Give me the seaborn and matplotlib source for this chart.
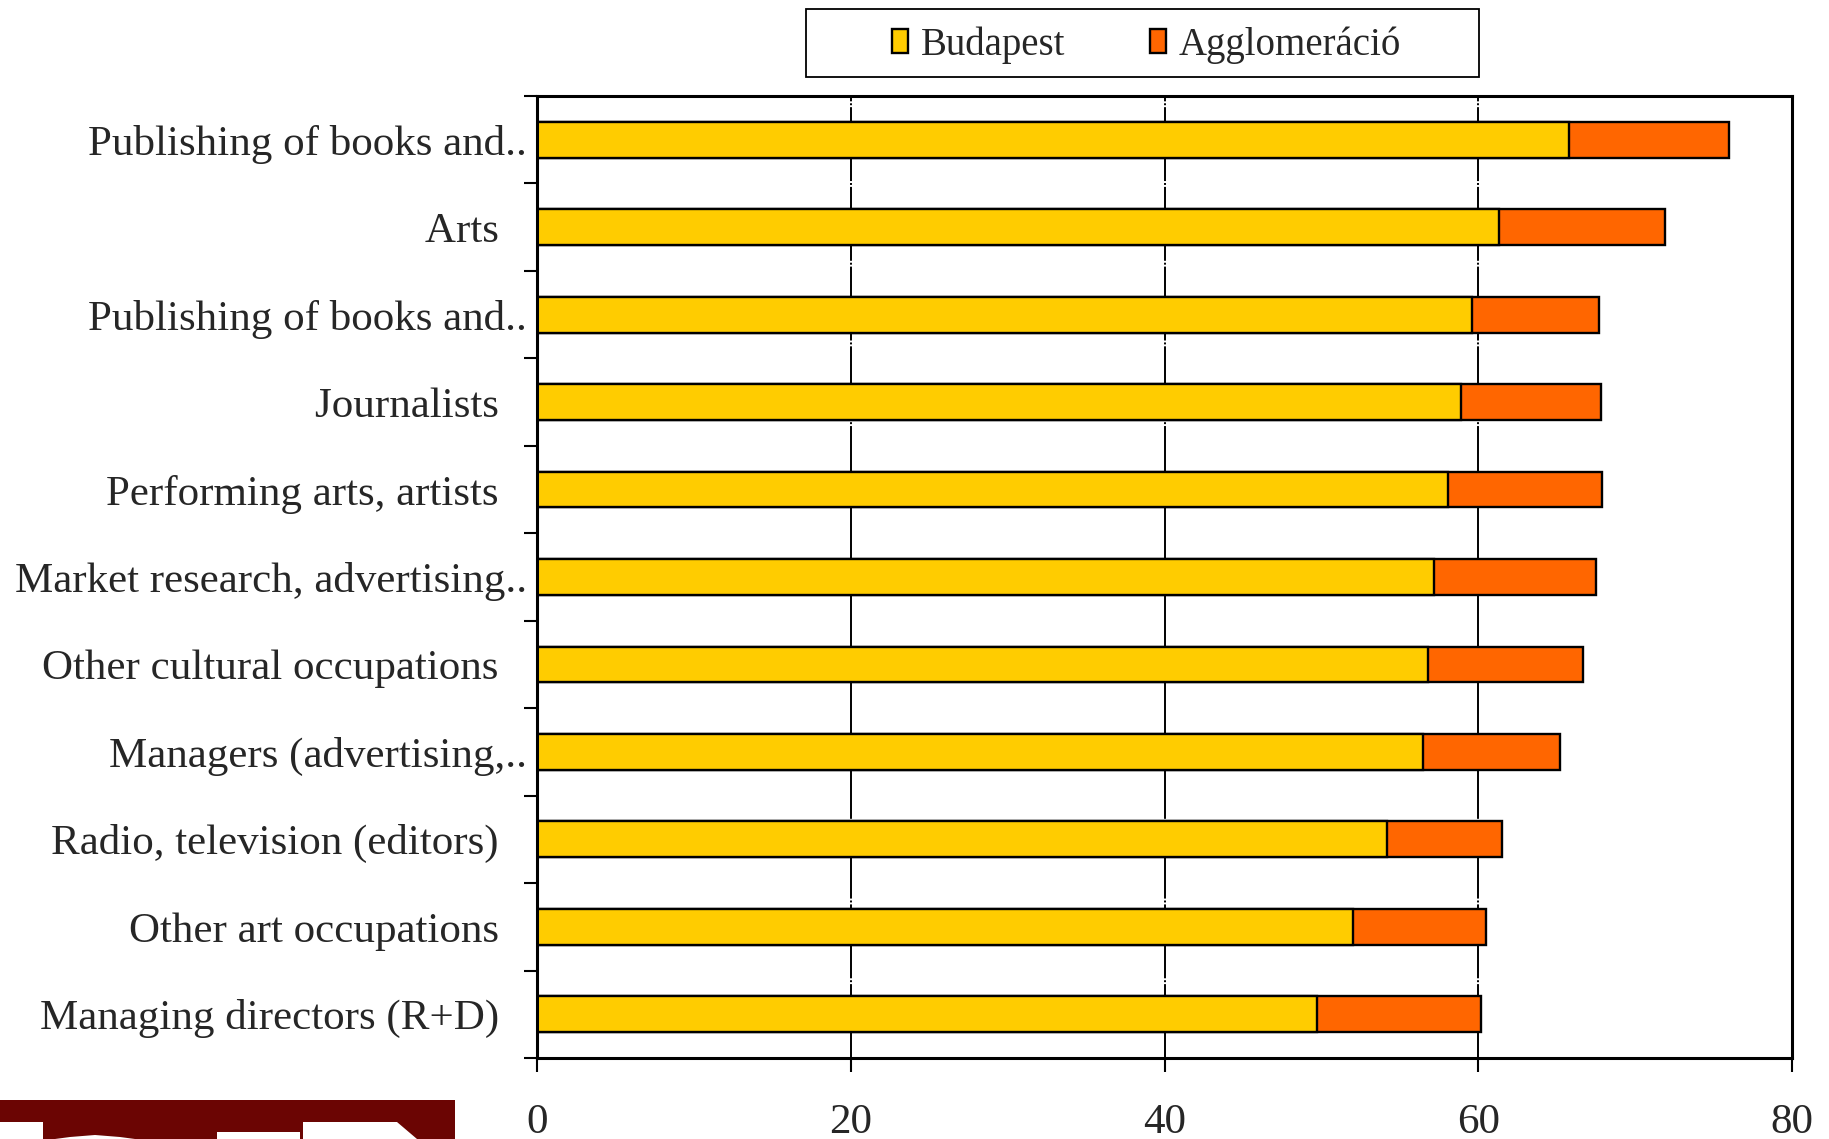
import matplotlib
matplotlib.use('Agg')
import matplotlib.pyplot as plt
import seaborn as sns
import pandas as pd
from matplotlib.patches import Patch, Rectangle, Polygon

# Adatok (felülről lefelé)
SP = '  \u2006'  # záró térköz a nem csonkolt feliratokhoz
kategoriak = [
    'Publishing of books and..',
    'Arts' + SP,
    'Publishing of books and..',
    'Journalists' + SP,
    'Performing arts, artists' + SP,
    'Market research, advertising..',
    'Other cultural occupations' + SP,
    'Managers (advertising,..',
    'Radio, television (editors)' + SP,
    'Other art occupations' + SP,
    'Managing directors (R+D)' + SP,
]
budapest = [65.8, 61.3, 59.6, 58.9, 58.1, 57.2, 56.8, 56.5, 54.2, 52.0, 49.7]
agglomeracio = [10.2, 10.6, 8.1, 8.9, 9.8, 10.3, 9.9, 8.7, 7.3, 8.5, 10.5]
x_ticks = [0, 20, 40, 60, 80]

SARGA = '#FFCC00'
NARANCS = '#FF6600'

df = pd.DataFrame({'pos': range(len(kategoriak)), 'budapest': budapest, 'agglo': agglomeracio})
df['osszes'] = df['budapest'] + df['agglo']

sns.set_theme(style='white')
plt.rcParams['font.family'] = ['Liberation Serif', 'DejaVu Serif']

fig = plt.figure(figsize=(18.29, 11.39), dpi=100)
ax = fig.add_axes([0.2936, 0.0711, 0.9798 - 0.2936, 0.9157 - 0.0711])

# halmozott oszlopok: előbb az összeg (narancs), rá a budapesti rész (sárga)
sns.barplot(data=df, x='osszes', y='pos', orient='h', color=NARANCS, saturation=1,
            width=0.41, edgecolor='black', linewidth=1.7, ax=ax)
sns.barplot(data=df, x='budapest', y='pos', orient='h', color=SARGA, saturation=1,
            width=0.41, edgecolor='black', linewidth=1.7, ax=ax)

ax.set_xlim(0, 80)
ax.set_ylim(len(kategoriak) - 0.5, -0.5)
ax.set_xlabel('')
ax.set_ylabel('')

ax.set_xticks(x_ticks)
ax.set_xticklabels([str(t) for t in x_ticks], fontsize=31)
ax.set_yticks(range(len(kategoriak)))
ax.set_yticklabels(kategoriak, fontsize=31)
ax.set_yticks([i - 0.5 for i in range(len(kategoriak) + 1)], minor=True)

ax.tick_params(axis='x', which='major', direction='out', length=10, width=1.5,
               color='black', pad=23, bottom=True)
ax.tick_params(axis='y', which='major', length=0, pad=7, left=True)
ax.tick_params(axis='y', which='minor', direction='out', length=9.5, width=1.5,
               color='black', left=True)

ax.xaxis.grid(True, color='black', linewidth=1.4, linestyle=(0, (38, 1, 1, 1)))
ax.yaxis.grid(False)
ax.set_axisbelow(True)

for s in ax.spines.values():
    s.set_visible(True)
    s.set_color('black')
    s.set_linewidth(2.2)

# Jelmagyarázat (külön keret)
fig.patches.append(Rectangle((0.4407, 0.9324), 0.368, 0.0597, transform=fig.transFigure,
                             facecolor='white', edgecolor='black', linewidth=1.3, zorder=1))
kezelok = [Patch(facecolor=SARGA, edgecolor='black', linewidth=1.7, label='Budapest'),
           Patch(facecolor=NARANCS, edgecolor='black', linewidth=1.7, label='Agglomeráció')]
fig.legend(handles=kezelok, loc='center left', bbox_to_anchor=(892 / 1829, 0.9605),
           ncol=2, frameon=False, fontsize=28, handlelength=0.4, handleheight=0.55,
           handletextpad=0.33, columnspacing=2.2, borderpad=0, borderaxespad=0)

# levágott logó a bal alsó sarokban
fig.patches.append(Rectangle((0, 0), 455 / 1829, 39 / 1139, transform=fig.transFigure,
                             facecolor='#6B0503', edgecolor='none'))
for pts in [
    [(0, 0), (43, 0), (43, 17), (0, 17)],
    [(55, 0), (135, 0), (120, 2), (95, 4), (70, 2)],
    [(217, 0), (300, 0), (300, 7), (217, 7)],
    [(303, 0), (417, 0), (397, 17), (303, 17)],
]:
    fig.patches.append(Polygon([(x / 1829, y / 1139) for x, y in pts], closed=True,
                               transform=fig.transFigure, facecolor='white', edgecolor='none'))

plt.savefig('out.png', dpi=100)
